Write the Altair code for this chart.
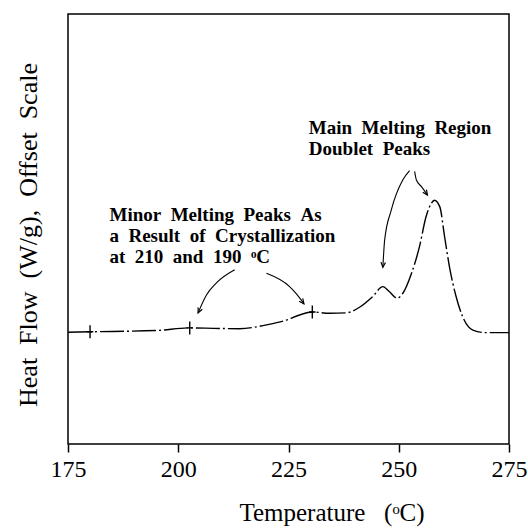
import altair as alt
import pandas as pd

# ---- data ----
temps = [175, 180, 195, 202.6, 208, 213.9, 220, 224.5, 227.5, 230.4, 234.3, 238.1,
         241.1, 244.1, 246.4, 247.9, 249.6, 250.9, 252.9, 254.7, 256.2, 257.4, 258.1,
         259.3, 260.4, 261.5, 263.0, 264.5, 266.8, 269.8, 275]
heat = [26.0, 26.1, 26.4, 27.0, 26.9, 26.8, 27.7, 28.8, 30.0, 30.7, 30.4, 30.5,
        31.8, 34.3, 36.6, 35.4, 33.9, 35.0, 39.7, 45.9, 52.9, 56.0, 56.7,
        55.2, 48.2, 41.2, 34.3, 29.6, 26.5, 25.9, 25.9]

cross_t = [180, 202.6, 230.4]
cross_h = [26.1, 27.0, 30.7]

arrow_id = [1, 1, 1, 1, 2, 2, 2, 2, 3, 3, 3, 3, 3, 4, 4, 4, 4]
arrow_order = [0, 1, 2, 3, 0, 1, 2, 3, 0, 1, 2, 3, 4, 0, 1, 2, 3]
arrow_t = [212.8, 208.6, 206.4, 204.5,
           220.0, 225.25, 226.8, 228.5,
           252.45, 250.9, 248.3, 246.8, 246.4,
           253.6, 254.0, 255.2, 256.5]
arrow_h = [40.5, 37.4, 34.65, 30.5,
           39.7, 36.6, 34.9, 32.6,
           63.6, 61.4, 54.4, 47.4, 41.1,
           63.4, 61.4, 59.8, 57.9]

head_t = [204.5, 228.5, 246.4, 256.5]
head_h = [30.5, 32.6, 41.1, 57.9]
head_angle = [25, 323, 4, 326]

NB = "\u00a0"
notes = [
    f"Main{NB}{NB}Melting{NB}{NB}Region\nDoublet{NB}{NB}Peaks",
    f"Minor{NB}{NB}Melting{NB}{NB}Peaks{NB}{NB}As\na{NB}{NB}Result{NB}{NB}of{NB}{NB}Crystallization\nat{NB}{NB}210{NB}{NB}and{NB}{NB}190{NB}{NB}ᵒC",
]
note_t = [229.6, 184.4]
note_h = [72.2, 51.9]

tick_values = [175, 200, 225, 250, 275]
x_title = f"Temperature{NB}{NB}{NB}(ᵒC)"
y_title = f"Heat{NB}{NB}Flow{NB}{NB}(W/g),{NB}{NB}Offset{NB}{NB}Scale"

FONT = "Liberation Serif"

xscale = alt.Scale(domain=[175, 275], nice=False, zero=False)
yscale = alt.Scale(domain=[0, 100], nice=False, zero=False)

xaxis = alt.Axis(
    title=x_title, values=tick_values, format="d", grid=False, domain=False,
    ticks=True, tickSize=8, tickColor="black", tickWidth=1.5,
    labelFont=FONT, labelFontSize=24, labelColor="black", labelFlush=False,
    labelOverlap=False, labelBaseline="alphabetic", labelPadding=24,
    titleFont=FONT, titleFontSize=25, titleFontWeight="normal", titleColor="black",
    titleX=263.5, titleY=76, titleBaseline="alphabetic", titleAlign="center",
)
yaxis = alt.Axis(
    title=y_title, labels=False, ticks=False, domain=False, grid=False,
    titleFont=FONT, titleFontSize=26, titleFontWeight="normal", titleColor="black",
    titleX=-32, titleY=220.5, titleBaseline="alphabetic", titleAlign="center",
    titleAngle=270,
)

curve_df = pd.DataFrame({"t": temps, "h": heat})
cross_df = pd.DataFrame({"t": cross_t, "h": cross_h})
arrow_df = pd.DataFrame({"id": arrow_id, "o": arrow_order, "t": arrow_t, "h": arrow_h})
head_df = pd.DataFrame({"t": head_t, "h": head_h, "a": head_angle})
note_df = pd.DataFrame({"t": note_t, "h": note_h, "txt": notes})

curve = alt.Chart(curve_df).mark_line(
    color="black", strokeWidth=1.4, interpolate="monotone", strokeDash=[24, 3, 2, 3]
).encode(
    x=alt.X("t:Q", scale=xscale, axis=xaxis),
    y=alt.Y("h:Q", scale=yscale, axis=yaxis),
)

crosses = alt.Chart(cross_df).mark_point(
    shape="M0,-1L0,1M-0.5,0L0.5,0", filled=False, stroke="black", strokeWidth=1.4,
    size=170, opacity=1,
).encode(x=alt.X("t:Q", scale=xscale), y=alt.Y("h:Q", scale=yscale))

arrows = alt.Chart(arrow_df).mark_line(
    color="black", strokeWidth=1.1, interpolate="monotone"
).encode(
    x=alt.X("t:Q", scale=xscale), y=alt.Y("h:Q", scale=yscale),
    detail="id:N", order="o:Q",
)

heads = alt.Chart(head_df).mark_point(
    shape="M-0.45,-1L0,0L0.45,-1", filled=False, stroke="black", strokeWidth=1.2,
    size=100, opacity=1,
).encode(
    x=alt.X("t:Q", scale=xscale), y=alt.Y("h:Q", scale=yscale),
    angle=alt.Angle("a:Q", scale=None),
)

texts = alt.Chart(note_df).mark_text(
    font=FONT, fontSize=19, fontWeight="bold", color="black", align="left",
    baseline="alphabetic", lineBreak="\n", lineHeight=21,
).encode(
    x=alt.X("t:Q", scale=xscale), y=alt.Y("h:Q", scale=yscale), text="txt:N",
)

chart = alt.layer(curve, crosses, arrows, heads, texts).properties(
    width=441, height=430,
    padding={"left": 68, "top": 14, "right": 19, "bottom": 85},
    autosize=alt.AutoSizeParams(type="none"),
    background="white",
).configure_view(stroke="black", strokeWidth=1.5)

chart.save("out.html", embed_options={"renderer": "svg", "actions": False})
